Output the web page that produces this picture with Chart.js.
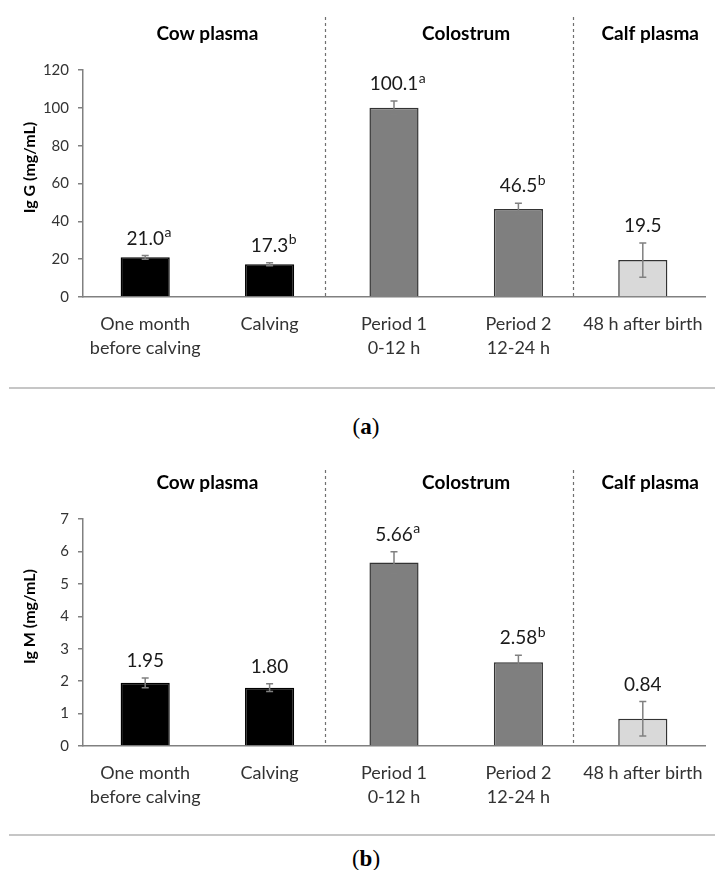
<!DOCTYPE html>
<html>
<head>
<meta charset="utf-8">
<script src="https://cdn.jsdelivr.net/npm/chart.js@4.4.0/dist/chart.umd.min.js"></script>
<style>
    body { margin: 0; background: #fff; width: 715px; height: 870px; position: relative; overflow: hidden; }
    .panel { position: absolute; left: 0; width: 715px; }
    .rule { position: absolute; left: 9px; right: 0; height: 2px; background: #c6c6c6; }
    .caption { position: absolute; left: 0; width: 732px; text-align: center; font-family: "Liberation Serif", serif; font-size: 23px; color: #000; }
    .caption b { font-weight: bold; }
</style>
</head>
<body>
<div class="panel" style="top:0;height:380px"><canvas id="igg-chart" width="715" height="380"></canvas></div>
<div class="rule" style="top:387px"></div>
<div class="caption" style="top:414px">(<b>a</b>)</div>
<div class="panel" style="top:440px;height:390px"><canvas id="igm-chart" width="715" height="390"></canvas></div>
<div class="rule" style="top:834px"></div>
<div class="caption" style="top:846px">(<b>b</b>)</div>

<script>
// Categories and groups
const categories = [['One month', 'before calving'], 'Calving', ['Period 1', '0-12 h'], ['Period 2', '12-24 h'], '48 h after birth'];
const groupNames = ['Cow plasma', 'Colostrum', 'Calf plasma'];

// Panel (a) IgG
const iggValues = [21.0, 17.3, 100.1, 46.5, 19.5];
const iggErrors = [1.0, 0.8, 3.5, 3.0, 9.0];
const iggLetters = ['a', 'b', 'a', 'b', ''];
const iggTicks = { max: 120, step: 20 };

// Panel (b) IgM
const igmValues = [1.95, 1.80, 5.66, 2.58, 0.84];
const igmErrors = [0.15, 0.12, 0.33, 0.22, 0.53];
const igmLetters = ['', '', 'a', 'b', ''];
const igmTicks = { max: 7, step: 1 };

// Bar colours per category
const fillColors = ['#000000', '#000000', '#7f7f7f', '#7f7f7f', '#d9d9d9'];
const edgeColors = ['#000000', '#000000', '#333333', '#333333', '#333333'];

const axisColor = '#808080';
const textColor = '#333333';
const FONT = 'Lato, "Open Sans", sans-serif';

// Draws error bars, value labels, group titles, dashed dividers and y title
const overlayPlugin = {
    id: 'overlay',
    afterDatasetsDraw(chart, args, opts) {
        const { ctx, chartArea } = chart;
        const x = chart.scales.x;
        const y = chart.scales.y;
        const values = chart.data.datasets[0].data;
        ctx.save();

        // Error bars
        ctx.strokeStyle = '#808080';
        ctx.lineWidth = 1.5;
        values.forEach((v, i) => {
            const cx = x.getPixelForValue(i);
            const top = y.getPixelForValue(v + opts.errors[i]);
            const bot = y.getPixelForValue(v - opts.errors[i]);
            ctx.beginPath();
            ctx.moveTo(cx, top); ctx.lineTo(cx, bot);
            ctx.moveTo(cx - 3.5, top); ctx.lineTo(cx + 3.5, top);
            ctx.moveTo(cx - 3.5, bot); ctx.lineTo(cx + 3.5, bot);
            ctx.stroke();
        });

        // Value labels with superscript letters
        ctx.textBaseline = 'middle';
        values.forEach((v, i) => {
            const cx = x.getPixelForValue(i);
            const ly = y.getPixelForValue(v + opts.errors[i]) - 17;
            const txt = v.toFixed(opts.decimals);
            ctx.font = '19px ' + FONT;
            ctx.fillStyle = '#1a1a1a';
            ctx.textAlign = 'center';
            ctx.fillText(txt, cx, ly);
            if (opts.letters[i]) {
                const w = ctx.measureText(txt).width;
                ctx.font = '14px ' + FONT;
                ctx.textAlign = 'left';
                ctx.fillText(opts.letters[i], cx + w / 2 + 0.5, ly - 6);
            }
        });

        // Dashed dividers between groups
        ctx.strokeStyle = '#707070';
        ctx.lineWidth = 1.2;
        ctx.setLineDash([3, 3]);
        opts.dividers.forEach(d => {
            const dx = Math.round(x.getPixelForValue(d)) + 0.5;
            ctx.beginPath();
            ctx.moveTo(dx, opts.dividerTop);
            ctx.lineTo(dx, chartArea.bottom);
            ctx.stroke();
        });
        ctx.setLineDash([]);

        // Group titles
        ctx.font = 'bold 19px ' + FONT;
        ctx.fillStyle = '#000';
        ctx.textAlign = 'center';
        groupNames.forEach((g, i) => {
            ctx.fillText(g, x.getPixelForValue(opts.groupCenters[i]), opts.titleY);
        });

        // Y axis title
        ctx.translate(30, (chartArea.top + chartArea.bottom) / 2 - 16);
        ctx.rotate(-Math.PI / 2);
        ctx.font = 'bold 16px ' + FONT;
        ctx.fillText(opts.yTitle, 0, 0);
        ctx.restore();
    }
};

function createPanel(id, values, errors, letters, ticks, decimals, yTitle, layout) {
    const ctx = document.getElementById(id);
    return new Chart(ctx, {
        type: 'bar',
        data: {
            labels: categories,
            datasets: [{
                data: values,
                backgroundColor: fillColors,
                borderColor: edgeColors,
                borderWidth: 1.5,
                categoryPercentage: 1,
                barPercentage: 0.395
            }]
        },
        options: {
            responsive: false,
            animation: false,
            devicePixelRatio: 1,
            layout: { padding: { left: 0, right: 10, top: layout.top, bottom: 0 } },
            scales: {
                x: {
                    grid: { display: false },
                    border: { display: true, color: axisColor, width: 1.5 },
                    ticks: {
                        color: textColor,
                        font: { family: FONT, size: 18, lineHeight: 1.35 },
                        padding: 7,
                        maxRotation: 0,
                        autoSkip: false
                    },
                    afterFit: s => { s.height = layout.bottomSpace; }
                },
                y: {
                    min: 0,
                    max: ticks.max,
                    grid: { drawOnChartArea: false, drawTicks: true, tickLength: 5, color: axisColor, lineWidth: 1.5 },
                    border: { display: true, color: axisColor, width: 1.5 },
                    ticks: {
                        stepSize: ticks.step,
                        color: textColor,
                        font: { family: FONT, size: 15 },
                        padding: 9
                    },
                    afterFit: s => { s.width = 83; }
                }
            },
            plugins: {
                legend: { display: false },
                tooltip: { enabled: false },
                overlay: {
                    errors: errors,
                    letters: letters,
                    decimals: decimals,
                    yTitle: yTitle,
                    titleY: layout.titleY,
                    dividerTop: layout.dividerTop,
                    dividers: [1.445, 3.44],
                    groupCenters: [0.5, 2.58, 4.06]
                }
            }
        },
        plugins: [overlayPlugin]
    });
}

createPanel('igg-chart', iggValues, iggErrors, iggLetters, iggTicks, 1, 'Ig G (mg/mL)',
    { top: 70, bottomSpace: 83, titleY: 34, dividerTop: 17 });
createPanel('igm-chart', igmValues, igmErrors, igmLetters, igmTicks, 2, 'Ig M (mg/mL)',
    { top: 79, bottomSpace: 84, titleY: 43, dividerTop: 30 });
</script>
</body>
</html>
